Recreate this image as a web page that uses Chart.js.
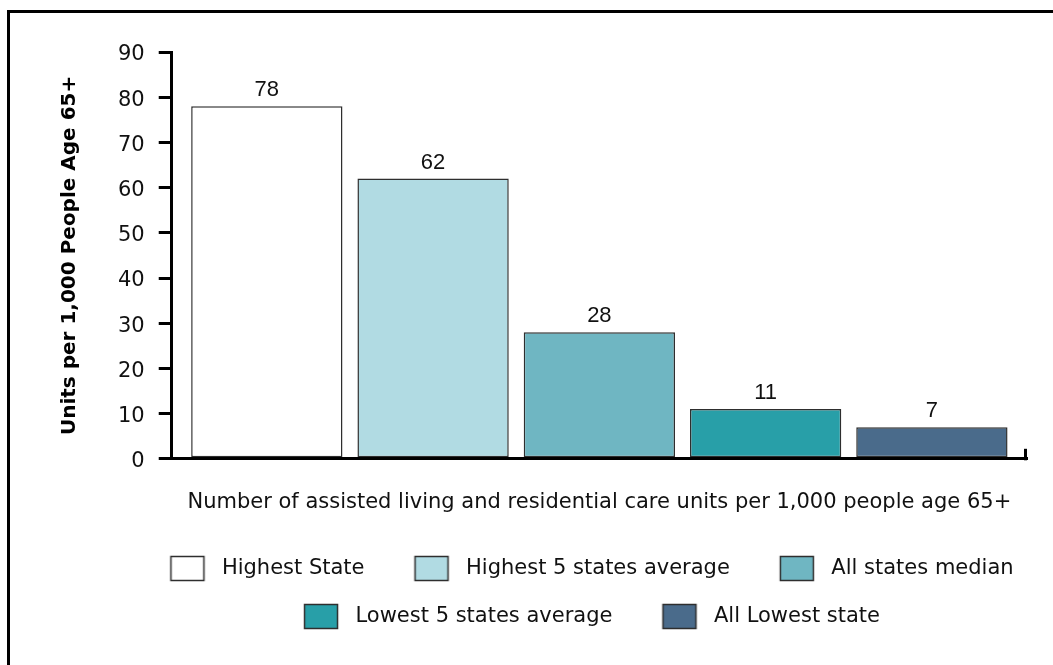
<!DOCTYPE html>
<html>
<head>
<meta charset="utf-8">
<title>Assisted living and residential care units per 1,000 people age 65+</title>
<script src="https://cdn.jsdelivr.net/npm/chart.js@4.4.1/dist/chart.umd.min.js"></script>
<style>
html, body { margin: 0; padding: 0; background: #fff; overflow: hidden; }
#wrap { position: relative; width: 1053px; height: 665px; }
#frame {
	position: absolute; left: 7px; top: 10px; width: 1200px; height: 800px;
	border-top: 3px solid #000; border-left: 3px solid #000; pointer-events: none;
}
canvas { position: absolute; left: 0; top: 0; }
</style>
</head>
<body>
<div id="wrap">
	<canvas id="unitsChart" width="1053" height="665"></canvas>
	<div id="frame"></div>
</div>
<script>
// one group of bars, one bar per series
const categories = ['']
const seriesNames = [
	'Highest State',
	'Highest 5 states average',
	'All states median',
	'Lowest 5 states average',
	'All Lowest state',
]
const seriesValues = [78, 62, 28, 11, 7]
const seriesColors = ['#ffffff', '#b1dbe3', '#6fb6c2', '#289fa8', '#4a6b8b']
const yTickValues = [0, 10, 20, 30, 40, 50, 60, 70, 80, 90]
const yTitle = 'Units per 1,000 People Age 65+'
const xTitle =
	'Number of assisted living and residential care units per 1,000 people age 65+'

const edgeColor = '#2e2e2e'

// legend swatch: transparent lead-in, then the outlined box
function makeSwatch(color) {
	const c = document.createElement('canvas')
	c.width = 64
	c.height = 27
	const g = c.getContext('2d')
	g.fillStyle = color
	g.fillRect(23.5, 1.5, 33, 24)
	g.strokeStyle = edgeColor
	g.lineWidth = 1.5
	g.strokeRect(23.5, 1.5, 33, 24)
	return c
}
const swatches = seriesColors.map(makeSwatch)

const valueLabels = {
	id: 'valueLabels',
	afterDatasetsDraw(chart) {
		const ctx = chart.ctx
		ctx.save()
		ctx.font = '22px "Liberation Sans", Arial, sans-serif'
		ctx.fillStyle = '#111'
		ctx.textAlign = 'center'
		ctx.textBaseline = 'alphabetic'
		chart.data.datasets.forEach((ds, i) => {
			chart.getDatasetMeta(i).data.forEach((bar, j) => {
				ctx.fillText(ds.data[j], bar.x, bar.y - 10)
			})
		})
		ctx.restore()
	},
}

// small upward tick closing the x axis on the right
const axisEndTick = {
	id: 'axisEndTick',
	afterDraw(chart) {
		const x = chart.scales.x
		const ctx = chart.ctx
		ctx.save()
		ctx.strokeStyle = '#000'
		ctx.lineWidth = 3
		ctx.beginPath()
		ctx.moveTo(x.right - 1.5, x.top + 1.5)
		ctx.lineTo(x.right - 1.5, x.top - 10)
		ctx.stroke()
		ctx.restore()
	},
}

// legend rows are centred under the plot, not the whole canvas
const legendShift = {
	id: 'legendShift',
	afterLayout(chart) {
		chart.legend.left += 38
		chart.legend.right += 38
	},
}

Chart.defaults.font.family = '"DejaVu Sans", sans-serif'

const ctx = document.getElementById('unitsChart').getContext('2d')
const unitsChart = new Chart(ctx, {
	type: 'bar',
	data: {
		labels: categories,
		datasets: seriesNames.map((name, i) => ({
			label: name,
			data: [seriesValues[i]],
			backgroundColor: seriesColors[i],
			borderColor: edgeColor,
			borderWidth: 1.5,
			borderSkipped: false,
			categoryPercentage: 0.972,
			barPercentage: 0.91,
		})),
	},
	options: {
		responsive: false,
		animation: false,
		devicePixelRatio: 1,
		layout: {
			padding: { top: 52, left: 58, right: 26, bottom: 28 },
		},
		plugins: {
			tooltip: { enabled: false },
			legend: {
				position: 'bottom',
				labels: {
					font: { size: 21 },
					color: '#111',
					usePointStyle: true,
					pointStyleWidth: 64,
					padding: 27,
					generateLabels(chart) {
						return Chart.defaults.plugins.legend.labels
							.generateLabels(chart)
							.map(item => {
								item.pointStyle = swatches[item.datasetIndex]
								return item
							})
					},
				},
			},
		},
		scales: {
			x: {
				grid: { display: false, drawTicks: false },
				ticks: { display: false },
				border: { display: true, color: '#000', width: 3, z: 1 },
				title: {
					display: true,
					text: xTitle,
					color: '#111',
					font: { size: 21 },
					padding: { top: 31, bottom: 16 },
				},
			},
			y: {
				min: 0,
				max: 90,
				afterBuildTicks: scale => {
					scale.ticks = yTickValues.map(v => ({ value: v }))
				},
				ticks: {
					padding: 14,
					labelOffset: 3,
					color: '#111',
					font: { size: 21 },
				},
				grid: {
					drawOnChartArea: false,
					drawTicks: true,
					tickLength: 13,
					color: '#000',
					lineWidth: 3,
				},
				border: { display: true, color: '#000', width: 3 },
				title: {
					display: true,
					text: yTitle,
					color: '#000',
					font: { size: 20, weight: 'bold' },
					padding: { top: 0, bottom: 22 },
				},
			},
		},
	},
	plugins: [valueLabels, axisEndTick, legendShift],
})
</script>
</body>
</html>
